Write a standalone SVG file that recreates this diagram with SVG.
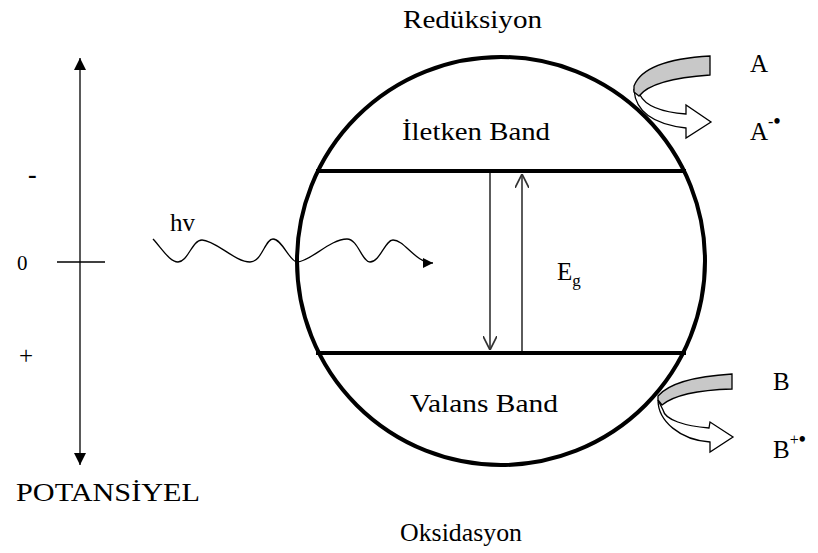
<svg xmlns="http://www.w3.org/2000/svg" width="818" height="553" viewBox="0 0 818 553">
<style>
text{font-family:"Liberation Serif","Times New Roman",serif;fill:#000;font-size:25px}
.thick{stroke:#000;stroke-width:4;fill:none}
.thin{stroke:#000;stroke-width:1.3;fill:none}
.gap{stroke:#333;stroke-width:1.6;fill:none}
.gray{fill:#c8c8c8;stroke:#000;stroke-width:1.3}
.white{fill:#fff;stroke:#000;stroke-width:1.3}
.sup{font-size:16px}
</style>
<defs>
<marker id="tri" viewBox="0 0 10 10" refX="10" refY="5" markerWidth="10" markerHeight="10" markerUnits="userSpaceOnUse" orient="auto"><path d="M0,0 L10,5 L0,10 Z" fill="#000"/></marker>
<marker id="axtri" viewBox="0 0 10 10" refX="10" refY="5" markerWidth="12" markerHeight="12" markerUnits="userSpaceOnUse" orient="auto-start-reverse"><path d="M0,0 L10,5 L0,10 Z" fill="#000"/></marker>
<marker id="open" viewBox="0 0 10 10" refX="10" refY="5" markerWidth="14" markerHeight="14" markerUnits="userSpaceOnUse" orient="auto"><path d="M0,0 L10,5 L0,10" fill="none" stroke="#333" stroke-width="1.2"/></marker>
</defs>

<g id="axis">
<line class="thin" x1="80" y1="58" x2="80" y2="465" marker-start="url(#axtri)" marker-end="url(#axtri)"/>
<line class="thin" x1="57" y1="262" x2="105" y2="262"/>
<text x="28" y="183" style="font-size:26px;font-weight:bold">-</text>
<text x="17" y="270" style="font-size:21px">0</text>
<text x="19" y="364" style="font-size:25px">+</text>
<text x="16" y="501" textLength="184" lengthAdjust="spacingAndGlyphs">POTANSİYEL</text>
</g>

<g id="particle">
<circle class="thick" cx="501" cy="261" r="204"/>
<line class="thick" x1="316" y1="171" x2="686" y2="171"/>
<line class="thick" x1="316" y1="353" x2="686" y2="353"/>
</g>

<g id="labels">
<text x="403" y="28" textLength="139" lengthAdjust="spacingAndGlyphs">Redüksiyon</text>
<text x="402" y="140" textLength="148" lengthAdjust="spacingAndGlyphs">İletken Band</text>
<text x="410" y="412" textLength="148" lengthAdjust="spacingAndGlyphs">Valans Band</text>
<text x="400" y="541" textLength="122" lengthAdjust="spacingAndGlyphs">Oksidasyon</text>
<text x="557" y="280">E<tspan dy="6" style="font-size:17px">g</tspan></text>
<text x="170" y="231">hv</text>
</g>

<g id="connectors">
<line class="gap" x1="490" y1="173" x2="490" y2="350" marker-end="url(#open)"/>
<line class="gap" x1="522" y1="351" x2="522" y2="174" marker-end="url(#open)"/>
<path class="thin" d="M153,239 C163,250 170,262 178,262 C188,262 192,240 202,240 C215,240 235,262 250,262 C262,262 265,239 273,239 C282,239 290,262 297,262 C310,262 330,239 347,239 C358,239 362,262 370,262 C380,262 385,240 393,240 C405,240 415,263 433,263" marker-end="url(#tri)"/>
</g>

<g id="reduction">
<path class="white" d="M634,90 C636,116 660,125 686,128 L686,138 L711,122 L686,105 L686,114 C660,112 645,105 640,95 Z"/>
<path class="gray" d="M710,56 L710,75 C680,77 650,82 639,96 L634,92 L634,86 C642,65 675,58 710,56 Z"/>
<text x="750" y="72">A</text>
<text x="750" y="140">A<tspan dy="-13" class="sup">-</tspan><tspan style="font-size:20px;font-weight:bold" dy="1">•</tspan></text>
</g>

<g id="oxidation">
<path class="white" d="M658,400 C658,421 680,440 710,442 L710,452 L733,437 L710,422 L709,428 C685,426 665,420 663,410 Z"/>
<path class="gray" d="M732,374 L732,389 C700,390 675,394 662,405 L658,400 L658,396 C670,382 700,376 732,374 Z"/>
<text x="773" y="390">B</text>
<text x="773" y="458">B<tspan dy="-13" class="sup">+</tspan><tspan style="font-size:20px;font-weight:bold" dy="1">•</tspan></text>
</g>
</svg>
